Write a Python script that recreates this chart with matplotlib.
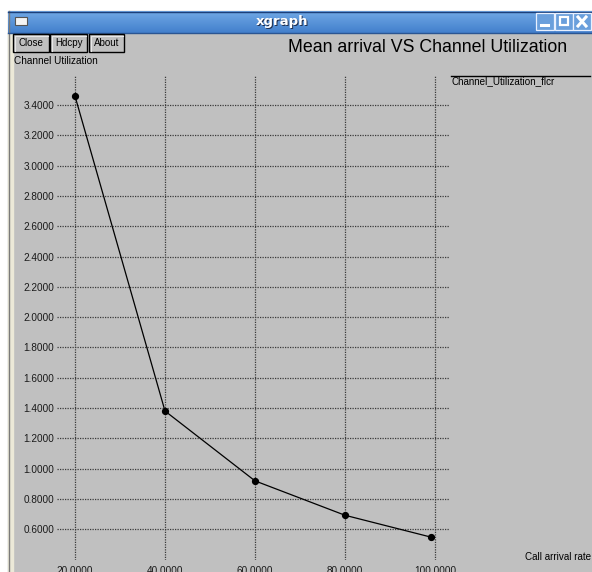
import numpy as np
import matplotlib.pyplot as plt
from matplotlib.patches import Rectangle

plt.rcParams['font.family'] = ['Liberation Sans', 'DejaVu Sans']

arrival_rate = [20, 40, 60, 80, 99.2]
utilization = [3.459, 1.380, 0.919, 0.692, 0.547]
x_ticks = [20, 40, 60, 80, 100]
y_ticks = [0.6, 0.8, 1.0, 1.2, 1.4, 1.6, 1.8, 2.0, 2.2, 2.4, 2.6, 2.8, 3.0, 3.2, 3.4]
series_name = "Channel_Utilization_flcr"
title = "Mean arrival VS Channel Utilization"

W, H = 592, 572
fig = plt.figure(figsize=(W / 100, H / 100), dpi=100)

def px_axes(l, t, r, b, **kw):
    return fig.add_axes([l / W, 1 - b / H, (r - l) / W, (b - t) / H], **kw)

# window decoration, pixel coordinates
bg = fig.add_axes([0, 0, 1, 1])
bg.set_xlim(0, W)
bg.set_ylim(H, 0)
bg.axis('off')
bg.add_patch(Rectangle((0, 0), W, H, color='white', zorder=0))
bg.add_patch(Rectangle((8, 11), W - 8, H - 11, color='#c0c0c0', zorder=1))
bg.add_patch(Rectangle((8, 32), 5, H - 32, color='#ece9d8', zorder=2))
bg.plot([8.5, 8.5], [11, H], color='#7a7a7a', lw=1, zorder=3)

grad = np.linspace(0, 1, 40).reshape(-1, 1)
top = np.array([0.44, 0.66, 0.90])
bot = np.array([0.26, 0.50, 0.80])
img = top[None, None, :] * (1 - grad[..., None]) + bot[None, None, :] * grad[..., None]
bg.imshow(img, extent=(8, W, 33, 11), aspect='auto', zorder=2)
bg.plot([8, W], [11.5, 11.5], color='#1c3f7a', lw=1, zorder=3)
bg.plot([8, W], [32.5, 32.5], color='#2a5592', lw=1, zorder=3)

# window icon
bg.add_patch(Rectangle((15, 17), 12, 8, facecolor='#f4f4f4', edgecolor='#555555', lw=0.8, zorder=4))
bg.text(283, 22.5, 'xgraph', color='#203050', fontsize=9.5, fontweight='bold',
        ha='center', va='center', family='DejaVu Sans', zorder=4)
bg.text(282, 21.5, 'xgraph', color='white', fontsize=9.5, fontweight='bold',
        ha='center', va='center', family='DejaVu Sans', zorder=5)

# min / max / close boxes
for x0, sym in [(536, 'min'), (555, 'max'), (573, 'close')]:
    bg.add_patch(Rectangle((x0, 13), 18, 17, facecolor='#6a9fdc', edgecolor='#e8f0ff',
                           lw=0.9, zorder=4))
    if sym == 'min':
        bg.plot([x0 + 5, x0 + 12], [25, 25], color='white', lw=2.2, zorder=5)
    elif sym == 'max':
        bg.add_patch(Rectangle((x0 + 5, 17), 8, 8, fill=False, edgecolor='white', lw=1.6, zorder=5))
    else:
        bg.plot([x0 + 5, x0 + 13], [17, 26], color='white', lw=2.2, zorder=5)
        bg.plot([x0 + 5, x0 + 13], [26, 17], color='white', lw=2.2, zorder=5)

# buttons
for x0, x1, label in [(13, 49, 'Close'), (50, 87, 'Hdcpy'), (89, 124, 'About')]:
    bg.add_patch(Rectangle((x0, 34), x1 - x0, 18, facecolor='#c0c0c0', edgecolor='black',
                           lw=1, zorder=4))
    bg.plot([x0 + 1.5, x0 + 1.5, x1 - 1.5], [51, 35.5, 35.5], color='#e8e8e8', lw=0.8, zorder=5)
    bg.text((x0 + x1) / 2, 43.5, label, fontsize=7, ha='center', va='center', zorder=5)

bg.text(428, 47.5, title, fontsize=12.8, ha='center', va='center', zorder=5)
bg.text(14, 60.5, 'Channel Utilization', fontsize=7.2, ha='left', va='center', zorder=5)
bg.text(525, 557, 'Call arrival rate', fontsize=7.1, ha='left', va='center', zorder=5)

# legend entry
bg.plot([451, 590], [75.5, 75.5], color='black', lw=1, zorder=5)
bg.text(452, 81, series_name, fontsize=7.1, ha='left', va='center', zorder=5)

# data axes: grid spans x 57..450 px, y 75..560 px
ax = px_axes(57, 75, 450, 560)
ax.set_facecolor('none')
ppx = 90 / 20.0
ppy = 30.3 / 0.2
ax.set_xlim(20 - 18 / ppx, 20 + 375 / ppx)
ax.set_ylim(0.6 - 30.8 / ppy, 3.4 + 30 / ppy)
for s in ax.spines.values():
    s.set_visible(False)
ax.set_xticks(x_ticks)
ax.set_xticklabels(['%.4f' % v for v in x_ticks])
ax.set_yticks(y_ticks)
ax.set_yticklabels(['%.4f' % v for v in y_ticks])
ax.tick_params(length=0, labelsize=7.2, colors='#1a1a1a')
ax.tick_params(axis='y', pad=2)
ax.tick_params(axis='x', pad=4.5)
ax.grid(True, color='#3a3a3a', linewidth=0.9, linestyle=(0, (1, 1)))
ax.set_axisbelow(True)

ax.plot(arrival_rate, utilization, color='black', lw=0.9, marker='o', markersize=4.2,
        markerfacecolor='black', markeredgecolor='black', clip_on=False)

fig.savefig('out.png', dpi=100)
